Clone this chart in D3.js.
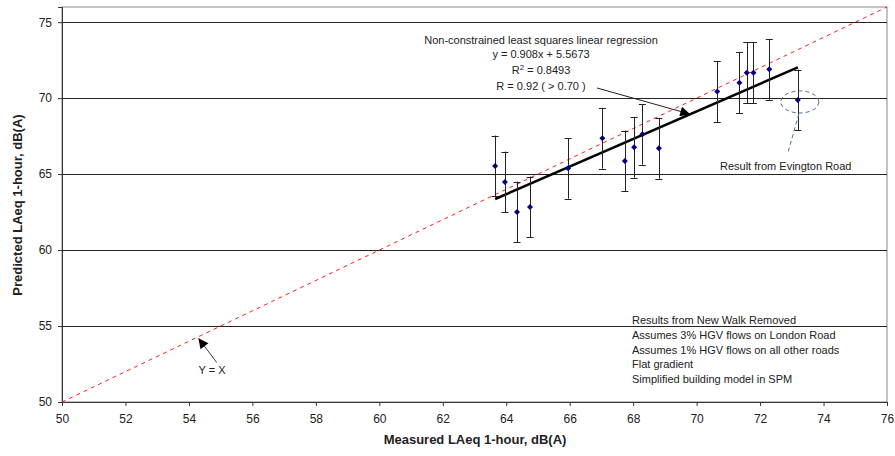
<!DOCTYPE html>
<html>
<head>
<meta charset="utf-8">
<script src="https://cdn.jsdelivr.net/npm/d3@7"></script>
<style>
  body { margin: 0; background: #fff; }
  text { font-family: "Liberation Sans", Arial, sans-serif; fill: #222; }
</style>
</head>
<body>
<div id="chart"></div>
<script>
// measured vs predicted LAeq, dB(A)
const measured = [63.65, 63.96, 64.34, 64.75, 65.95, 67.03, 67.74, 68.03, 68.29, 68.81, 70.65, 71.35, 71.58, 71.79, 72.29, 73.19];
const predicted = [65.54, 64.48, 62.51, 62.84, 65.38, 67.36, 65.87, 66.77, 67.62, 66.70, 70.43, 71.02, 71.68, 71.68, 71.90, 69.88];
const errorBar = [2, 2, 2, 2, 2, 2, 2, 2, 2, 2, 2, 2, 2, 2, 2, 2];
const xTicks = [50, 52, 54, 56, 58, 60, 62, 64, 66, 68, 70, 72, 74, 76];
const yTicks = [50, 55, 60, 65, 70, 75];
const slope = 0.908, intercept = 5.5673;

const regText = [
  'Non-constrained least squares linear regression',
  'y = 0.908x + 5.5673',
  'R2',
  'R = 0.92 ( > 0.70 )'
];
const notes = [
  'Results from New Walk Removed',
  'Assumes 3% HGV flows on London Road',
  'Assumes 1% HGV flows on all other roads',
  'Flat gradient',
  'Simplified building model in SPM'
];

const width = 895, height = 456;
const svg = d3.select('#chart').append('svg')
  .attr('width', width)
  .attr('height', height);

const x = d3.scaleLinear().domain([50, 76]).range([62, 887]);
const y = d3.scaleLinear().domain([50, 76]).range([402, 7]);

const data = measured.map((m, i) => ({ m: m, p: predicted[i], e: errorBar[i] }));

// plot frame
svg.append('rect')
  .attr('x', x(50)).attr('y', y(76))
  .attr('width', x(76) - x(50)).attr('height', y(50) - y(76))
  .attr('fill', 'none').attr('stroke', '#888');

// gridlines
svg.append('g')
  .selectAll('line')
  .data(yTicks.filter(d => d > 50))
  .enter()
  .append('line')
  .attr('x1', x(50)).attr('x2', x(76))
  .attr('y1', d => Math.round(y(d)) + 0.5)
  .attr('y2', d => Math.round(y(d)) + 0.5)
  .attr('stroke', '#222');

// axes
const xAxis = svg.append('g')
  .attr('transform', `translate(0,${y(50)})`)
  .call(d3.axisBottom(x).tickValues(xTicks).tickSize(4).tickPadding(8));
const yAxis = svg.append('g')
  .attr('transform', `translate(${x(50)},0)`)
  .call(d3.axisLeft(y).tickValues(yTicks).tickSize(4).tickPadding(6));
[xAxis, yAxis].forEach(a => {
  a.selectAll('path, line').attr('stroke', '#333');
  a.selectAll('text').style('font-size', '12px').attr('fill', '#222');
});

// y = x dashed line
svg.append('line')
  .attr('x1', x(50)).attr('y1', y(50))
  .attr('x2', x(76)).attr('y2', y(76))
  .attr('stroke', '#ff2020')
  .attr('stroke-width', 1)
  .attr('stroke-dasharray', '4,4');

// regression line
const xMin = d3.min(measured), xMax = d3.max(measured);
svg.append('line')
  .attr('x1', x(xMin)).attr('y1', y(slope * xMin + intercept))
  .attr('x2', x(xMax)).attr('y2', y(slope * xMax + intercept))
  .attr('stroke', '#000')
  .attr('stroke-width', 2.5);

// error bars
const eb = svg.append('g').attr('stroke', '#222').attr('stroke-width', 1);
eb.selectAll('.v').data(data).enter().append('line')
  .attr('x1', d => Math.round(x(d.m)) + 0.5).attr('x2', d => Math.round(x(d.m)) + 0.5)
  .attr('y1', d => y(d.p - d.e)).attr('y2', d => y(d.p + d.e));
eb.selectAll('.t').data(data).enter().append('line')
  .attr('x1', d => x(d.m) - 3.5).attr('x2', d => x(d.m) + 3.5)
  .attr('y1', d => Math.round(y(d.p + d.e)) + 0.5).attr('y2', d => Math.round(y(d.p + d.e)) + 0.5);
eb.selectAll('.b').data(data).enter().append('line')
  .attr('x1', d => x(d.m) - 3.5).attr('x2', d => x(d.m) + 3.5)
  .attr('y1', d => Math.round(y(d.p - d.e)) + 0.5).attr('y2', d => Math.round(y(d.p - d.e)) + 0.5);

// diamonds
svg.append('g')
  .selectAll('path')
  .data(data)
  .enter()
  .append('path')
  .attr('transform', d => `translate(${x(d.m)},${y(d.p)})`)
  .attr('d', 'M0,-3L3,0L0,3L-3,0Z')
  .attr('fill', '#000080');

// arrowheads
const defs = svg.append('defs');
defs.append('marker')
  .attr('id', 'arr')
  .attr('viewBox', '0 0 10 10')
  .attr('refX', 10).attr('refY', 5)
  .attr('markerWidth', 14).attr('markerHeight', 10)
  .attr('markerUnits', 'userSpaceOnUse')
  .attr('orient', 'auto')
  .append('path')
  .attr('d', 'M0,0L10,5L0,10Z')
  .attr('fill', '#000');

// regression annotation
const regX = 541;
const reg = svg.append('g').style('font-size', '11px').attr('text-anchor', 'middle');
reg.append('text').attr('x', regX).attr('y', 44).text(regText[0]);
reg.append('text').attr('x', regX).attr('y', 58).text(regText[1]);
const r2 = reg.append('text').attr('x', regX).attr('y', 74);
r2.append('tspan').text('R');
r2.append('tspan').attr('dy', -4).style('font-size', '8px').text('2');
r2.append('tspan').attr('dy', 4).text(' = 0.8493');
reg.append('text').attr('x', regX).attr('y', 90).text(regText[3]);

svg.append('line')
  .attr('x1', x(66.86)).attr('y1', y(70.67))
  .attr('x2', x(69.8)).attr('y2', y(slope * 69.8 + intercept))
  .attr('stroke', '#222')
  .attr('stroke-width', 1)
  .attr('marker-end', 'url(#arr)');

// Y = X annotation
svg.append('line')
  .attr('x1', x(54.88)).attr('y1', y(52.59))
  .attr('x2', x(54.3)).attr('y2', y(54.2))
  .attr('stroke', '#444')
  .attr('stroke-width', 1)
  .attr('marker-end', 'url(#arr)');
svg.append('text')
  .attr('x', 212).attr('y', 374)
  .attr('text-anchor', 'middle')
  .style('font-size', '11px')
  .text('Y = X');

// Evington Road callout
const ev = data[data.length - 1];
svg.append('ellipse')
  .attr('cx', x(ev.m) + 2).attr('cy', y(ev.p) + 2)
  .attr('rx', 19).attr('ry', 11)
  .attr('fill', 'none')
  .attr('stroke', '#4a6f95')
  .attr('stroke-dasharray', '4,3');
svg.append('line')
  .attr('x1', x(ev.m) + 1).attr('y1', y(ev.p) + 14)
  .attr('x2', x(ev.m) - 10).attr('y2', y(ev.p) + 53)
  .attr('stroke', '#4a6f95')
  .attr('stroke-dasharray', '4,3');
svg.append('text')
  .attr('x', 720).attr('y', 170)
  .style('font-size', '11px')
  .text('Result from Evington Road');

// notes box
svg.append('g')
  .style('font-size', '11px')
  .selectAll('text')
  .data(notes)
  .enter()
  .append('text')
  .attr('x', 632)
  .attr('y', (d, i) => 324 + i * 14.8)
  .text(d => d);

// axis titles
svg.append('text')
  .attr('x', 475).attr('y', 444)
  .attr('text-anchor', 'middle')
  .style('font-size', '13px')
  .style('font-weight', 'bold')
  .text('Measured LAeq 1-hour, dB(A)');
svg.append('text')
  .attr('transform', 'translate(22,205) rotate(-90)')
  .attr('text-anchor', 'middle')
  .style('font-size', '13px')
  .style('font-weight', 'bold')
  .text('Predicted LAeq 1-hour, dB(A)');
</script>
</body>
</html>
